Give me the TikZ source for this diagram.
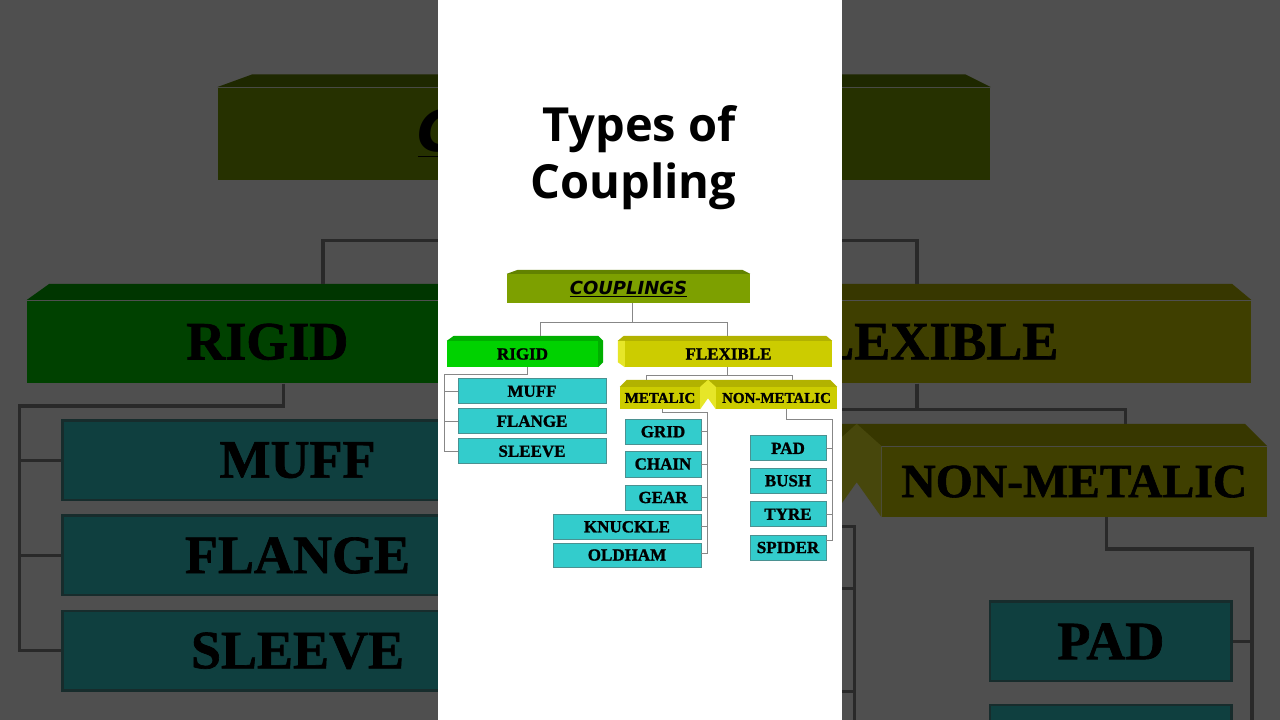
\documentclass[tikz,border=0pt]{standalone}
\usepackage{fontspec}
\setmainfont{Liberation Serif}[BoldFeatures={FakeBold=1.2}]
\newfontfamily\titrefont{Open Sans}
\newfontfamily\bandeaufont{DejaVu Sans}
\usetikzlibrary{calc}

\definecolor{vertolive}{RGB}{125,160,0}
\definecolor{vertolivefonce}{RGB}{98,130,0}
\definecolor{vertvif}{RGB}{0,210,0}
\definecolor{vertviffonce}{RGB}{0,175,0}
\definecolor{jaune}{RGB}{204,204,0}
\definecolor{jaunefonce}{RGB}{178,178,0}
\definecolor{jauneclair}{RGB}{230,230,40}
\definecolor{turquoise}{RGB}{51,204,204}
\definecolor{turquoisebord}{RGB}{75,145,145}
\definecolor{gris}{RGB}{135,135,135}

\begin{document}
\begin{tikzpicture}[x=1pt,y=-1pt]
		\tikzstyle{lien}=[draw=gris,line width=1pt]
		\tikzstyle{bandeau}=[inner sep=0pt,font=\fontsize{17}{17}\selectfont\bfseries]
		\tikzstyle{sousbandeau}=[bandeau,fill=jaune,minimum height=22pt,font=\fontsize{15}{15}\selectfont\bfseries]
		\tikzstyle{boite}=[fill=turquoise,draw=turquoisebord,line width=0.8pt,inner sep=0pt,minimum width=76pt,minimum height=25pt,font=\fontsize{17}{17}\selectfont\bfseries]
		\tikzstyle{longue}=[boite,minimum width=148pt]
		\tikzstyle{titre}=[anchor=base,inner sep=0pt,font=\titrefont\bfseries\fontsize{47}{56}\selectfont]
		
		\def\ColRigide{532}
		\def\ColMetal{663}
		\def\ColLong{627}
		\def\ColNonMetal{788}
		
		\def\Arbre{%
		% bandeaux en relief
		\node[bandeau,fill=vertolive,minimum width=243pt,minimum height=29pt] (cp) at (628.5,288.5) {\bandeaufont\bfseries\itshape\fontsize{18}{18}\selectfont\underline{COUPLINGS}};
		\fill[vertolivefonce] (cp.north west) -- ([shift={(11pt,4pt)}]cp.north west) -- ([shift={(-8pt,4pt)}]cp.north east) -- (cp.north east) -- cycle;
		
		\node[bandeau,fill=vertvif,minimum width=151pt,minimum height=26pt] (rig) at (522.5,354) {RIGID};
		\fill[vertviffonce] (rig.north west) -- ([shift={(7pt,5pt)}]rig.north west) -- ([yshift=5pt]rig.north east) -- ([xshift=5pt]rig.north east) -- cycle;
		\fill[vertviffonce] (rig.north east) -- ([xshift=5pt]rig.north east) -- ([shift={(5pt,5pt)}]rig.south east) -- (rig.south east) -- cycle;
		
		\node[bandeau,fill=jaune,minimum width=207pt,minimum height=26pt] (flx) at (728.5,354) {FLEXIBLE};
		\fill[jaunefonce] ([xshift=-7pt]flx.north west) -- ([shift={(-1pt,5pt)}]flx.north west) -- ([shift={(-6pt,5pt)}]flx.north east) -- (flx.north east) -- cycle;
		\fill[jauneclair] ([xshift=-7pt]flx.north west) -- (flx.north west) -- (flx.south west) -- ([shift={(-7pt,5pt)}]flx.south west) -- cycle;
		
		\node[sousbandeau,minimum width=80pt] (met) at (660,398) {METALIC};
		\node[sousbandeau,minimum width=121pt] (nmet) at (776.5,398) {NON-METALIC};
		\fill[jaunefonce] (met.north west) -- ([shift={(7pt,7pt)}]met.north west) -- ([shift={(-7pt,7pt)}]nmet.north east) -- (nmet.north east) -- cycle;
		\fill[jauneclair] (met.north east) -- ($(met.north east)!0.5!(nmet.north west)+(0,-7)$) -- (nmet.north west) -- (nmet.south west) -- ($(met.south east)!0.5!(nmet.south west)+(0,-11)$) -- (met.south east) -- cycle;
		
		% boites
		\node[longue] (muff) at (\ColRigide,391.25) {MUFF};
		\node[longue] (flange) at (\ColRigide,421.25) {FLANGE};
		\node[longue] (sleeve) at (\ColRigide,451.25) {SLEEVE};
		
		\node[boite] (grid) at (\ColMetal,431.7) {GRID};
		\node[boite,minimum height=26pt] (chain) at (\ColMetal,464) {CHAIN};
		\node[boite] (gear) at (\ColMetal,497.5) {GEAR};
		\node[longue] (knuckle) at (\ColLong,526.8) {KNUCKLE};
		\node[longue,minimum height=24pt] (oldham) at (\ColLong,555) {OLDHAM};
		
		\node[boite] (pad) at (\ColNonMetal,448.3) {PAD};
		\node[boite] (bush) at (\ColNonMetal,480.8) {BUSH};
		\node[boite] (tyre) at (\ColNonMetal,514.2) {TYRE};
		\node[boite] (spider) at (\ColNonMetal,547.5) {SPIDER};
		
		% liaisons
		\draw[lien] ([xshift=3.5pt]cp.south) -- ++(0,19) -| ([xshift=17.5pt,yshift=5pt]rig.north);
		\draw[lien] ([xshift=3.5pt]cp.south) -- ++(0,19) -| ([xshift=-1.5pt,yshift=5pt]flx.north);
		\draw[lien] ([xshift=5pt]rig.south) -- ++(0,7) -| ([xshift=-13pt]sleeve.west) -- (sleeve.west);
		\foreach \n in {muff,flange} \draw[lien] ([xshift=-13pt]\n.west) -- (\n.west);
		\draw[lien] ([xshift=-1.5pt]flx.south) -- ++(0,8) -| ([xshift=-14pt,yshift=7pt]met.north);
		\draw[lien] ([xshift=-1.5pt]flx.south) -- ++(0,8) -| ([xshift=16pt,yshift=7pt]nmet.north);
		\draw[lien] ([xshift=2pt]met.south) -- ++(0,3) -| ([xshift=6pt,yshift=2pt]oldham.east) -- ([yshift=2pt]oldham.east);
		\foreach \n in {grid,chain,gear,knuckle} \draw[lien] (\n.east) -- ++(6,0);
		\draw[lien] ([xshift=10pt]nmet.south) -- ++(0,10) -| ([xshift=6pt,yshift=7pt]spider.east) -- ([yshift=7pt]spider.east);
		\foreach \n in {pad,bush,tyre} \draw[lien] (\n.east) -- ++(6,0);
		}
		
		\useasboundingbox (0,0) rectangle (1280,720);
		\clip (0,0) rectangle (1280,720);
		\fill[white] (0,0) rectangle (1280,720);
		
		% fond : le schema agrandi et assombri
		\begin{scope}[transform canvas={scale around={3.177:(639.7,359.6)}}]
			\Arbre
		\end{scope}
		\fill[black,opacity=0.69] (0,0) rectangle (1280,720);
		
		% panneau central
		\fill[white] (438,0) rectangle (842,720);
		\node[titre] (titre1) at (639,141.7) {Types of};
		\node[titre] (titre2) at (633.5,198) {Coupling};
		\Arbre
	\end{tikzpicture}
\end{document}
